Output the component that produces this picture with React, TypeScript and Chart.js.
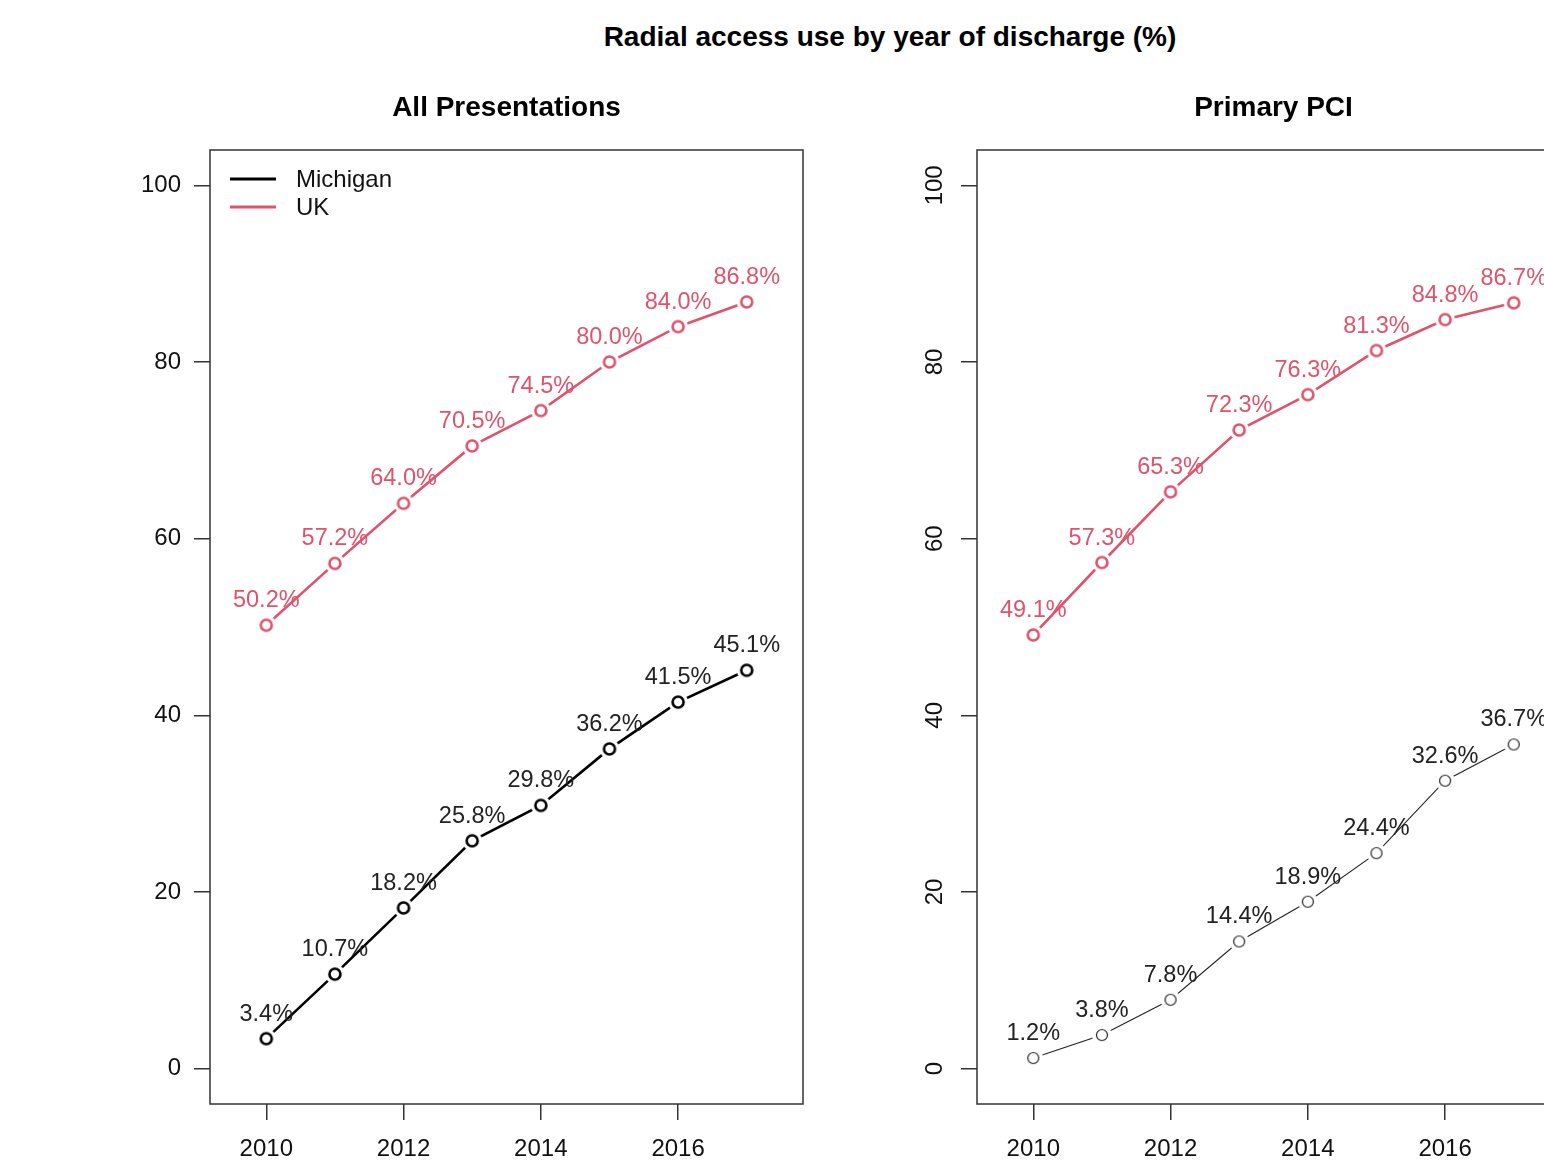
import React, { useEffect, useRef } from "react";
import { Chart, registerables } from "chart.js";

Chart.register(...registerables);

const years = [2010, 2011, 2012, 2013, 2014, 2015, 2016, 2017];
const allMichigan = [3.4, 10.7, 18.2, 25.8, 29.8, 36.2, 41.5, 45.1];
const allUK = [50.2, 57.2, 64.0, 70.5, 74.5, 80.0, 84.0, 86.8];
const ppciMichigan = [1.2, 3.8, 7.8, 14.4, 18.9, 24.4, 32.6, 36.7];
const ppciUK = [49.1, 57.3, 65.3, 72.3, 76.3, 81.3, 84.8, 86.7];
const xTicks = [2010, 2012, 2014, 2016];
const yTicks = [0, 20, 40, 60, 80, 100];
const seriesNames = ["Michigan", "UK"];

const FONT = "'Liberation Sans', Arial, Helvetica, sans-serif";
const RED = "#DF536B";
const BLACK = "#000000";
const AXIS = "#333333";

function makePointImage(color: string, ring: number, lw: number, gap: number) {
  const c = document.createElement("canvas");
  const s = Math.ceil(gap * 2 + 2);
  c.width = s;
  c.height = s;
  const ctx = c.getContext("2d")!;
  ctx.fillStyle = "#ffffff";
  ctx.beginPath();
  ctx.arc(s / 2, s / 2, gap, 0, Math.PI * 2);
  ctx.fill();
  ctx.strokeStyle = color;
  ctx.lineWidth = lw;
  ctx.beginPath();
  ctx.arc(s / 2, s / 2, ring, 0, Math.PI * 2);
  ctx.stroke();
  return c;
}

type PanelCfg = {
  title: string;
  mich: number[];
  uk: number[];
  michLW: number;
  yAxisWidth: number;
  padRight: number;
  rotateY: boolean;
  legend: boolean;
  michLabelColor: string;
};

function buildChart(canvas: HTMLCanvasElement, cfg: PanelCfg) {
  const michImg = makePointImage(cfg.michLW >= 2 ? BLACK : "#222", 5.5, cfg.michLW >= 2 ? 2.6 : 1.2, 10);
  const ukImg = makePointImage(RED, 5.5, 2.6, 10);
  const labelColors = [cfg.michLabelColor, RED];

  const panelPlugin = {
    id: "panel",
    afterDatasetsDraw(chart: any) {
      const ctx = chart.ctx;
      const a = chart.chartArea;
      ctx.save();
      // box
      ctx.strokeStyle = AXIS;
      ctx.lineWidth = 1.5;
      ctx.strokeRect(a.left, a.top, a.right - a.left, a.bottom - a.top);
      // data labels
      ctx.font = `23.5px ${FONT}`;
      ctx.textAlign = "center";
      ctx.textBaseline = "middle";
      chart.data.datasets.forEach((ds: any, di: number) => {
        const meta = chart.getDatasetMeta(di);
        ctx.fillStyle = labelColors[di];
        meta.data.forEach((el: any, i: number) => {
          ctx.fillText(ds.data[i].y.toFixed(1) + "%", el.x, el.y - 24.5);
        });
      });
      // panel title
      ctx.fillStyle = "#000";
      ctx.font = `bold 28px ${FONT}`;
      ctx.fillText(cfg.title, (a.left + a.right) / 2, 108);
      // legend
      if (cfg.legend) {
        const cols = [BLACK, RED];
        seriesNames.forEach((n, i) => {
          const y = 179 + i * 28;
          ctx.strokeStyle = cols[i];
          ctx.lineWidth = 3;
          ctx.beginPath();
          ctx.moveTo(a.left + 20, y);
          ctx.lineTo(a.left + 66, y);
          ctx.stroke();
          ctx.fillStyle = "#111";
          ctx.textAlign = "left";
          ctx.font = `24px ${FONT}`;
          ctx.fillText(n, a.left + 86, y + 1);
        });
      }
      ctx.restore();
    },
  };

  return new Chart(canvas, {
    type: "line",
    data: {
      datasets: [
        {
          label: seriesNames[0],
          data: years.map((x, i) => ({ x, y: cfg.mich[i] })),
          borderColor: cfg.michLW >= 2 ? BLACK : "#222",
          borderWidth: cfg.michLW,
          pointStyle: michImg as any,
          pointRadius: 5,
          tension: 0,
        },
        {
          label: seriesNames[1],
          data: years.map((x, i) => ({ x, y: cfg.uk[i] })),
          borderColor: RED,
          borderWidth: 2.6,
          pointStyle: ukImg as any,
          pointRadius: 5,
          tension: 0,
        },
      ],
    },
    options: {
      animation: false,
      responsive: false,
      layout: { padding: { top: 150, right: cfg.padRight, left: 0, bottom: 0 } },
      plugins: {
        legend: { display: false },
        tooltip: { enabled: false },
        title: { display: false },
      },
      scales: {
        x: {
          type: "linear",
          min: 2009.18,
          max: 2017.82,
          afterBuildTicks: (axis: any) => {
            axis.ticks = xTicks.map((v) => ({ value: v }));
          },
          afterFit: (s: any) => {
            s.height = 62;
          },
          ticks: {
            callback: (v: any) => String(v),
            font: { family: FONT, size: 24 },
            color: "#111",
            padding: 15,
            maxRotation: 0,
            minRotation: 0,
          },
          grid: {
            drawOnChartArea: false,
            drawTicks: true,
            tickLength: 16,
            color: AXIS,
            lineWidth: 1.5,
          },
          border: { display: false },
        },
        y: {
          type: "linear",
          min: -4,
          max: 104,
          afterBuildTicks: (axis: any) => {
            axis.ticks = yTicks.map((v) => ({ value: v }));
          },
          afterFit: (s: any) => {
            s.width = cfg.yAxisWidth;
          },
          ticks: cfg.rotateY
            ? {
                callback: (v: any) => String(v),
                font: { family: FONT, size: 24 },
                color: "#111",
                padding: 6,
                minRotation: 90,
                maxRotation: 90,
                crossAlign: "center",
              }
            : {
                callback: (v: any) => String(v),
                font: { family: FONT, size: 24 },
                color: "#111",
                padding: 13,
              },
          grid: {
            drawOnChartArea: false,
            drawTicks: true,
            tickLength: 16,
            color: AXIS,
            lineWidth: 1.5,
          },
          border: { display: false },
        },
      },
    } as any,
    plugins: [panelPlugin],
  });
}

export default function App() {
  const leftRef = useRef<HTMLCanvasElement>(null);
  const rightRef = useRef<HTMLCanvasElement>(null);

  useEffect(() => {
    const c1 = buildChart(leftRef.current!, {
      title: "All Presentations",
      mich: allMichigan,
      uk: allUK,
      michLW: 2.6,
      yAxisWidth: 210,
      padRight: 77,
      rotateY: false,
      legend: true,
      michLabelColor: "#222",
    });
    const c2 = buildChart(rightRef.current!, {
      title: "Primary PCI",
      mich: ppciMichigan,
      uk: ppciUK,
      michLW: 1.1,
      yAxisWidth: 127,
      padRight: 80,
      rotateY: true,
      legend: false,
      michLabelColor: "#222",
    });
    return () => {
      c1.destroy();
      c2.destroy();
    };
  }, []);

  return (
    <div
      style={{
        position: "absolute",
        left: 0,
        top: 0,
        width: 1544,
        height: 1166,
        overflow: "hidden",
        background: "#fff",
      }}
    >
      <div
        style={{
          position: "absolute",
          left: 540,
          width: 700,
          top: 20,
          textAlign: "center",
          fontFamily: FONT,
          fontWeight: "bold",
          fontSize: 28,
          lineHeight: "34px",
          color: "#000",
          whiteSpace: "nowrap",
        }}
      >
        Radial access use by year of discharge (%)
      </div>
      <canvas
        ref={leftRef}
        width={880}
        height={1166}
        style={{ position: "absolute", left: 0, top: 0, width: 880, height: 1166 }}
      />
      <canvas
        ref={rightRef}
        width={800}
        height={1166}
        style={{ position: "absolute", left: 850, top: 0, width: 800, height: 1166 }}
      />
    </div>
  );
}
